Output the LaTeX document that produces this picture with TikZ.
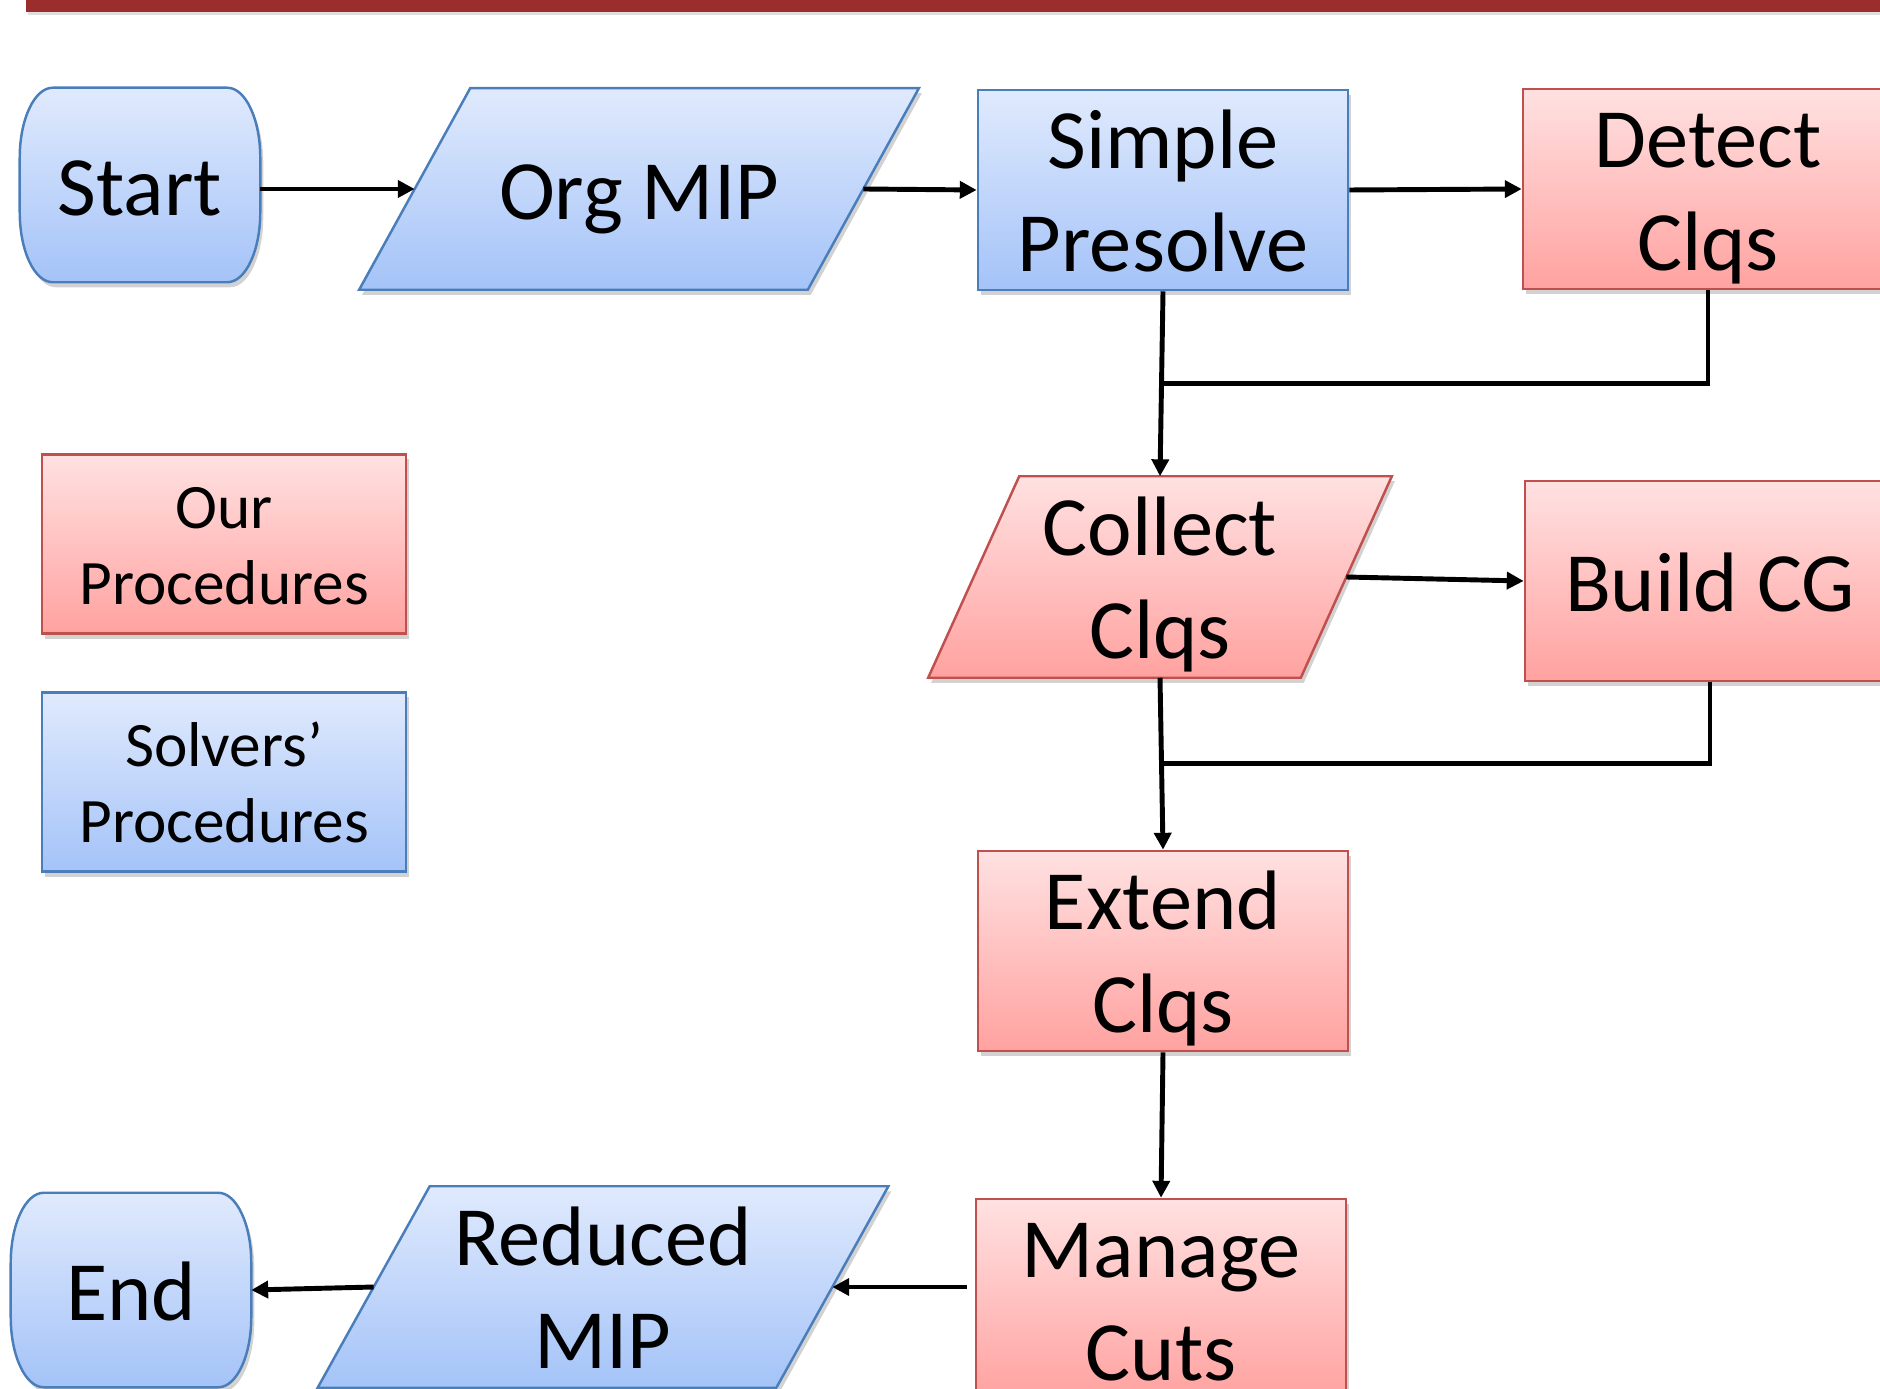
\documentclass[tikz,border=0pt]{standalone}
\usepackage{fontspec}
\setmainfont{Carlito}
\usetikzlibrary{shadows,backgrounds,arrows.meta,calc}

\definecolor{blueTop}{RGB}{224,234,253}
\definecolor{blueBot}{RGB}{164,195,248}
\definecolor{blueLine}{RGB}{74,126,187}
\definecolor{redTop}{RGB}{255,225,225}
\definecolor{redBot}{RGB}{255,162,160}
\definecolor{redLine}{RGB}{192,80,77}
\definecolor{barRed}{RGB}{156,45,45}

% line box of a text block: ascent with line gap on top, descent below
\newcommand\lineup{\rule{0pt}{0.9em}}
\newcommand\linedown{\rule[-0.18em]{0pt}{0.18em}}

\tikzset{
  shade blue/.style={top color=blueTop, bottom color=blueBot, draw=blueLine, line width=0.7pt},
  shade red/.style={top color=redTop, bottom color=redBot, draw=redLine, line width=0.7pt},
  soft shadow/.style={drop shadow={shadow xshift=0.03cm, shadow yshift=-0.05cm, opacity=0.25, fill=black!70}},
  big/.style={font=\fontsize{24}{29.3}\selectfont, align=center, text=black},
  small/.style={font=\fontsize{18}{21.5}\selectfont, align=center, text=black},
  procbox/.style={big, rectangle, minimum width=3.7cm, minimum height=2cm, inner sep=0pt, soft shadow},
  keybox/.style={small, rectangle, minimum width=3.64cm, minimum height=1.79cm, inner sep=0pt, soft shadow},
  slot/.style={big, rectangle, inner sep=0pt},
  flow/.style={line width=1.4pt, -{Triangle[length=4.8pt, width=4.8pt]}},
  link/.style={line width=1.4pt},
}

% parallelogram outline around a text node: node, half slant, colour style
\newcommand\parashape[3]{%
  \begin{scope}[on background layer]
    \path[#3, soft shadow] ([xshift=#2]#1.north west) -- ([xshift=#2]#1.north east)
      -- ([xshift=-#2]#1.south east) -- ([xshift=-#2]#1.south west) -- cycle;
  \end{scope}}

% terminator outline (flat top and bottom, bulging sides): node, colour style
\newcommand\termshape[2]{%
  \begin{scope}[on background layer]
    \path[#2, soft shadow] ([xshift=0.33cm]#1.north west) -- ([xshift=-0.33cm]#1.north east)
      arc[start angle=90, end angle=0, x radius=0.33cm, y radius=0.7cm]
      -- ([yshift=0.7cm]#1.south east)
      arc[start angle=0, end angle=-90, x radius=0.33cm, y radius=0.7cm]
      -- ([xshift=0.33cm]#1.south west)
      arc[start angle=270, end angle=180, x radius=0.33cm, y radius=0.7cm]
      -- ([yshift=-0.7cm]#1.north west)
      arc[start angle=180, end angle=90, x radius=0.33cm, y radius=0.7cm]
      -- cycle;
  \end{scope}}

\begin{document}
\begin{tikzpicture}[x=0.01cm, y=-0.01cm]
  \useasboundingbox (0,0) rectangle (1880,1389);

  % title rule
  \fill[barRed, drop shadow={shadow xshift=0.02cm, shadow yshift=-0.03cm, opacity=0.25}] (26,-10) rectangle (1890,12);

  % main flow
  \node[slot, minimum width=2.39cm, minimum height=1.93cm] (start) at (140,185) {\lineup Start\linedown};
  \termshape{start}{shade blue}

  \node[slot, minimum width=4.47cm, minimum height=2cm] (org) at (639,189) {\lineup Org MIP\linedown};
  \parashape{org}{0.555cm}{shade blue}

  \node[procbox, shade blue] (pres) at (1163,190) {\lineup Simple\\Presolve\linedown};
  \node[procbox, shade red] (det) at (1708,189) {\lineup Detect\\Clqs\linedown};

  \node[slot, minimum width=3.71cm, minimum height=2cm] (coll) at (1160,577) {\lineup Collect\\Clqs\linedown};
  \parashape{coll}{0.455cm}{shade red}

  \node[procbox, shade red] (build) at (1710,581) {\lineup Build CG\linedown};
  \node[procbox, shade red] (ext) at (1163,951) {\lineup Extend\\Clqs\linedown};
  \node[procbox, shade red] (man) at (1161,1299) {\lineup Manage\\Cuts\linedown};

  \node[slot, minimum width=4.57cm, minimum height=2cm] (red) at (603,1287) {\lineup Reduced\\MIP\linedown};
  \parashape{red}{0.56cm}{shade blue}

  \node[slot, minimum width=2.39cm, minimum height=1.93cm] (end) at (131,1290) {\lineup End\linedown};
  \termshape{end}{shade blue}

  % key
  \node[keybox, shade red] (ours) at (224,544) {\lineup Our\\Procedures\linedown};
  \node[keybox, shade blue] (solv) at (224,782) {\lineup Solvers’\\Procedures\linedown};

  % junctions where the side branches rejoin
  \coordinate (j1) at ($(pres.south)!0.5!(coll.north)$);
  \coordinate (j2) at ($(coll.south)!0.5!(ext.north)$);

  % connectors
  \draw[flow] (start.east |- org.west) -- (org.west);
  \draw[flow] (org.east) -- (pres.west);
  \draw[flow] (pres.east) -- (det.west);
  \draw[flow] (pres.south) -- (coll.north);
  \draw[link] (det.south) |- (j1);
  \draw[flow] (coll.east) -- (build.west);
  \draw[flow] (coll.south) -- (ext.north);
  \draw[link] (build.south) |- (j2);
  \draw[flow] (ext.south) -- (man.north);
  \draw[flow, shorten <=0.08cm] (man.west |- red.east) -- (red.east);
  \draw[flow] (red.west) -- (end.east);
\end{tikzpicture}
\end{document}
